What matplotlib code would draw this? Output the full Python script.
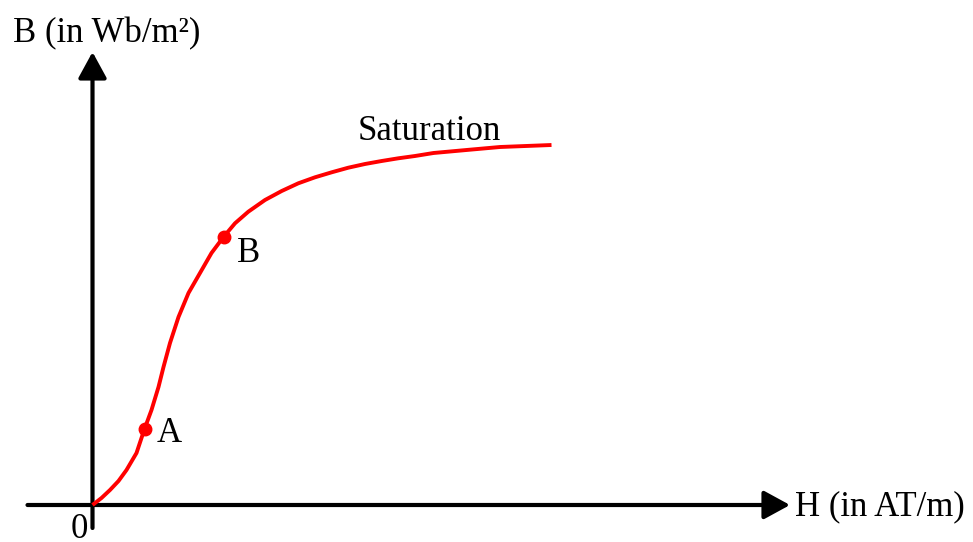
import matplotlib.pyplot as plt

# B-H magnetisation curve (H, B in arbitrary units)
H = [0, 9, 17.5, 26, 34, 44, 52, 59, 66, 71, 77.5, 86, 96, 107.5, 119, 131,
     142.5, 155.8, 172.5, 189.2, 205.8, 222.5, 239.2, 255.8, 272.5, 289.2,
     305.8, 322.5, 341, 374, 407.5, 459]
B = [0, 7, 15, 24, 35, 52, 76, 95, 118, 138, 162, 188, 212, 232, 252, 268,
     281.7, 293.3, 305, 314, 321.7, 327.7, 332.7, 337.3, 341, 344,
     346.7, 349, 352, 355, 358, 360]

point_names = ['A', 'B']
point_H = [52, 131]
point_B = [76, 268]

x_label = 'H (in AT/m)'
y_label = 'B (in Wb/m²)'
sat_label = 'Saturation'

plt.rcParams['font.family'] = ['Liberation Serif', 'DejaVu Serif']

fig = plt.figure(figsize=(9.73, 5.42), dpi=100)
ax = fig.add_axes([0, 0, 1, 1])
ax.set_xlim(-92.5, 880.5)
ax.set_ylim(-37, 505)
ax.axis('off')

# axes with arrow heads
arrow = dict(arrowstyle='-|>,head_length=0.55,head_width=0.3', lw=3,
             color='black', mutation_scale=29, shrinkA=0, shrinkB=0)
ax.annotate('', xy=(697.5, 0), xytext=(-65, 0), arrowprops=arrow)
ax.annotate('', xy=(0, 453), xytext=(0, -23), arrowprops=arrow)

# curve and marked points
ax.plot(H, B, color='red', lw=2.8, solid_capstyle='butt',
        solid_joinstyle='round', zorder=3)
ax.plot(point_H, point_B, 'o', color='red', markersize=9, zorder=4)

fs = 25
ax.text(-13.5, -33, '0', fontsize=fs, ha='center', va='baseline')
ax.text(702.5, -10, x_label, fontsize=fs, ha='left', va='baseline')
ax.text(-79.5, 463, y_label, fontsize=fs, ha='left', va='baseline')
ax.text(265.5, 365, sat_label, fontsize=fs, ha='left', va='baseline')
ax.text(64.5, 63, point_names[0], fontsize=fs, ha='left', va='baseline')
ax.text(144.5, 243, point_names[1], fontsize=fs, ha='left', va='baseline')

fig.savefig('out.png', dpi=100)
